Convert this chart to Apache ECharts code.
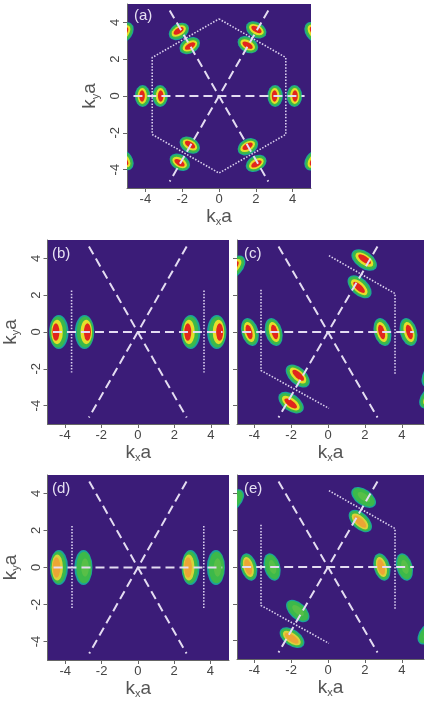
<!DOCTYPE html>
<html>
<head>
<meta charset="utf-8">
<script src="https://cdn.jsdelivr.net/npm/echarts@6/dist/echarts.min.js"></script>
<style>html,body{margin:0;padding:0;background:#fff}#chart{width:425px;height:701px}</style>
</head>
<body>
<div id="chart"></div>
<script>
var myChart = echarts.init(document.getElementById('chart'));

// tick labels shared by every panel
var tickVals = [-4, -2, 0, 2, 4];

// peak positions: [kx a, ky a, peak level]  (4 = red core, 3 = orange core, 2 = green only)
var peaksA = [[-4.15,0,4],[-3.2,0,4],[3.05,0,4],[4.1,0,4],
              [2.02,3.59,4],[1.57,2.79,4],[-2.18,3.51,4],[-1.59,2.74,4],
              [-1.59,-2.67,4],[-2.13,-3.6,4],[1.57,-2.76,4],[2.02,-3.66,4],
              [-5.12,3.45,4],[5.12,3.47,4],[-5.12,-3.48,4],[5.12,-3.5,4]];
var peaksB = [[-4.33,0,4],[-2.92,0,4],[2.9,0,4],[4.33,0,4]];
var peaksC = [[-4.23,0,4],[-2.94,0,4],[2.95,0,4],[4.36,0,4],
              [1.96,3.91,4],[1.71,2.46,4],[-1.64,-2.39,4],[-2.0,-3.84,4],
              [-5.1,3.5,4],[5.62,-2.3,2],[5.55,-3.5,4]];
var peaksD = [[-4.35,0,3],[-3.0,0,2],[2.9,0,3],[4.3,0,2]];
var peaksE = [[-4.29,0,3],[-3.03,0,2],[2.92,0,3],[4.14,0,2],
              [1.93,3.78,2],[1.75,2.5,3],[-1.64,-2.39,2],[-1.95,-3.84,3],
              [-5.15,3.59,2],[5.45,-3.57,2]];

// guide lines
var spokes = [[[-4.65,0],[4.65,0]], [[-2.68,4.65],[2.68,-4.65]], [[2.68,4.65],[-2.68,-4.65]]];
var hexagon = [[0,4.19],[3.63,2.09],[3.63,-2.09],[0,-4.19],[-3.63,-2.09],[-3.63,2.09],[0,4.19]];
var edgesBD = [[[-3.63,2.25],[-3.63,-2.2]], [[3.63,2.25],[3.63,-2.2]]];
var edgesCE = [[[0.05,4.15],[3.63,2.09],[3.63,-2.3]], [[-3.63,2.3],[-3.63,-2.09],[0.05,-4.15]]];

var panels = [
  {label:'(a)', peaks:peaksA, edges:[hexagon], box:[127,4,184,184], xr:[-5,5], yName:true, yLabels:true, blob:[0.42,0.6], tilt:[0,0], shift:0.15, lab:[134,8]},
  {label:'(b)', peaks:peaksB, edges:edgesBD, box:[46,240,183,184], xr:[-4.95,5], yName:true, yLabels:true, blob:[0.53,0.92], tilt:[0,0], shift:0.6, lab:[52,246]},
  {label:'(c)', peaks:peaksC, edges:edgesCE, box:[237,240,187,184], xr:[-4.93,5.2], yName:false, yLabels:false, blob:[0.46,0.78], tilt:[15,-8], shift:0.2, lab:[244,246]},
  {label:'(d)', peaks:peaksD, edges:edgesBD, box:[45,475,184,185], xr:[-4.98,5.02], yName:true, yLabels:true, blob:[0.5,0.95], tilt:[0,0], shift:0.6, lab:[52,481]},
  {label:'(e)', peaks:peaksE, edges:edgesCE, box:[237,475,187,184], xr:[-4.93,5.2], yName:false, yLabels:false, blob:[0.44,0.76], tilt:[15,-8], shift:0.2, lab:[244,481]}
];

var teal = '#1ba39b', green = '#3cb94a';
var layerSets = {
  4: [{c:teal,sr:1,st:1,sh:0},{c:green,sr:0.87,st:0.91,sh:0.1},{c:'#e6df2a',sr:0.6,st:0.72,sh:0.3},{c:'#e2261d',sr:0.36,st:0.52,sh:0.5}],
  3: [{c:teal,sr:1,st:1,sh:0},{c:green,sr:0.87,st:0.91,sh:0.1},{c:'#d9d33a',sr:0.62,st:0.74,sh:0.3},{c:'#eca535',sr:0.42,st:0.58,sh:0.45}],
  2: [{c:teal,sr:1,st:1,sh:0},{c:green,sr:0.85,st:0.9,sh:0.1},{c:'#58bf47',sr:0.42,st:0.52,sh:0.3}]
};

function blobRender(p) {
  return function (params, api) {
    var kx = api.value(0), ky = api.value(1), peak = api.value(2);
    var pt = api.coord([kx, ky]);
    var u = api.size([1, 1]);
    var ang = Math.atan2(ky, kx);
    var side = Math.sqrt(kx * kx + ky * ky) > 3.63 ? 1 : -1;
    var tilt = Math.abs(ky) < 0.5 ? p.tilt[0] : p.tilt[1];
    var rot = ang + tilt * Math.PI / 180;
    var kids = layerSets[peak].map(function (L) {
      var off = side * L.sh * p.shift * p.blob[0] * u[0];
      return {
        type: 'circle', shape: {cx: 0, cy: 0, r: 1},
        x: pt[0] + off * Math.cos(ang), y: pt[1] - off * Math.sin(ang),
        scaleX: p.blob[0] * L.sr * u[0], scaleY: p.blob[1] * L.st * u[1],
        rotation: rot, style: {fill: L.c}
      };
    });
    return {type: 'group', children: kids};
  };
}

var font = 'Liberation Sans';
function subName(sub) {
  return {
    name: '{k|k}{s|' + sub + '}{k|a}',
    nameTextStyle: {rich: {
      k: {fontSize: 19, color: '#555', fontFamily: font, lineHeight: 22},
      s: {fontSize: 11, color: '#555', fontFamily: font, lineHeight: 12, verticalAlign: 'bottom'}
    }}
  };
}

var grids = [], xAxes = [], yAxes = [], series = [], titles = [];
panels.forEach(function (p, i) {
  grids.push({left: p.box[0], top: p.box[1], width: p.box[2], height: p.box[3],
              show: true, backgroundColor: '#3b1c78', borderWidth: 0});
  var xa = {
    gridIndex: i, type: 'value', min: p.xr[0], max: p.xr[1],
    axisLine: {show: true, onZero: false, lineStyle: {color: '#666', width: 1}},
    axisTick: {show: true, customValues: tickVals, length: 4, lineStyle: {color: '#666'}},
    axisLabel: {customValues: tickVals, color: '#444', fontSize: 13, fontFamily: font, margin: 5},
    splitLine: {show: false},
    nameLocation: 'middle', nameGap: 17
  };
  Object.assign(xa, subName('x'));
  xAxes.push(xa);
  var ya = {
    gridIndex: i, type: 'value', min: -5, max: 5,
    axisLine: {show: true, onZero: false, lineStyle: {color: '#666', width: 1}},
    axisTick: {show: true, customValues: tickVals, length: 4, lineStyle: {color: '#666'}},
    axisLabel: {show: p.yLabels, customValues: tickVals, rotate: 90, color: '#444', fontSize: 13, fontFamily: font, margin: 5},
    splitLine: {show: false}
  };
  if (p.yName) {
    Object.assign(ya, subName('y'));
    ya.nameLocation = 'middle';
    ya.nameRotate = 90;
    ya.nameGap = 26;
  }
  yAxes.push(ya);

  series.push({type: 'custom', xAxisIndex: i, yAxisIndex: i, data: p.peaks,
               renderItem: blobRender(p), clip: true, silent: true, animation: false,
               encode: {x: 0, y: 1}});
  p.edges.forEach(function (seg) {
    series.push({type: 'line', xAxisIndex: i, yAxisIndex: i, data: seg, symbol: 'none',
                 lineStyle: {color: '#dcd2f0', width: 1.6, type: [1.5, 1.6]},
                 silent: true, animation: false});
  });
  spokes.forEach(function (seg) {
    series.push({type: 'line', xAxisIndex: i, yAxisIndex: i, data: seg, symbol: 'none',
                 lineStyle: {color: '#e4dcf2', width: 2, type: [9, 5]},
                 silent: true, animation: false});
  });
  titles.push({text: p.label, left: p.lab[0], top: p.lab[1], padding: 0,
               textStyle: {color: '#e6e0f2', fontSize: 15, fontWeight: 'normal', fontFamily: font}});
});

myChart.setOption({
  backgroundColor: '#fff',
  animation: false,
  title: titles,
  grid: grids,
  xAxis: xAxes,
  yAxis: yAxes,
  series: series
});
</script>
</body>
</html>
